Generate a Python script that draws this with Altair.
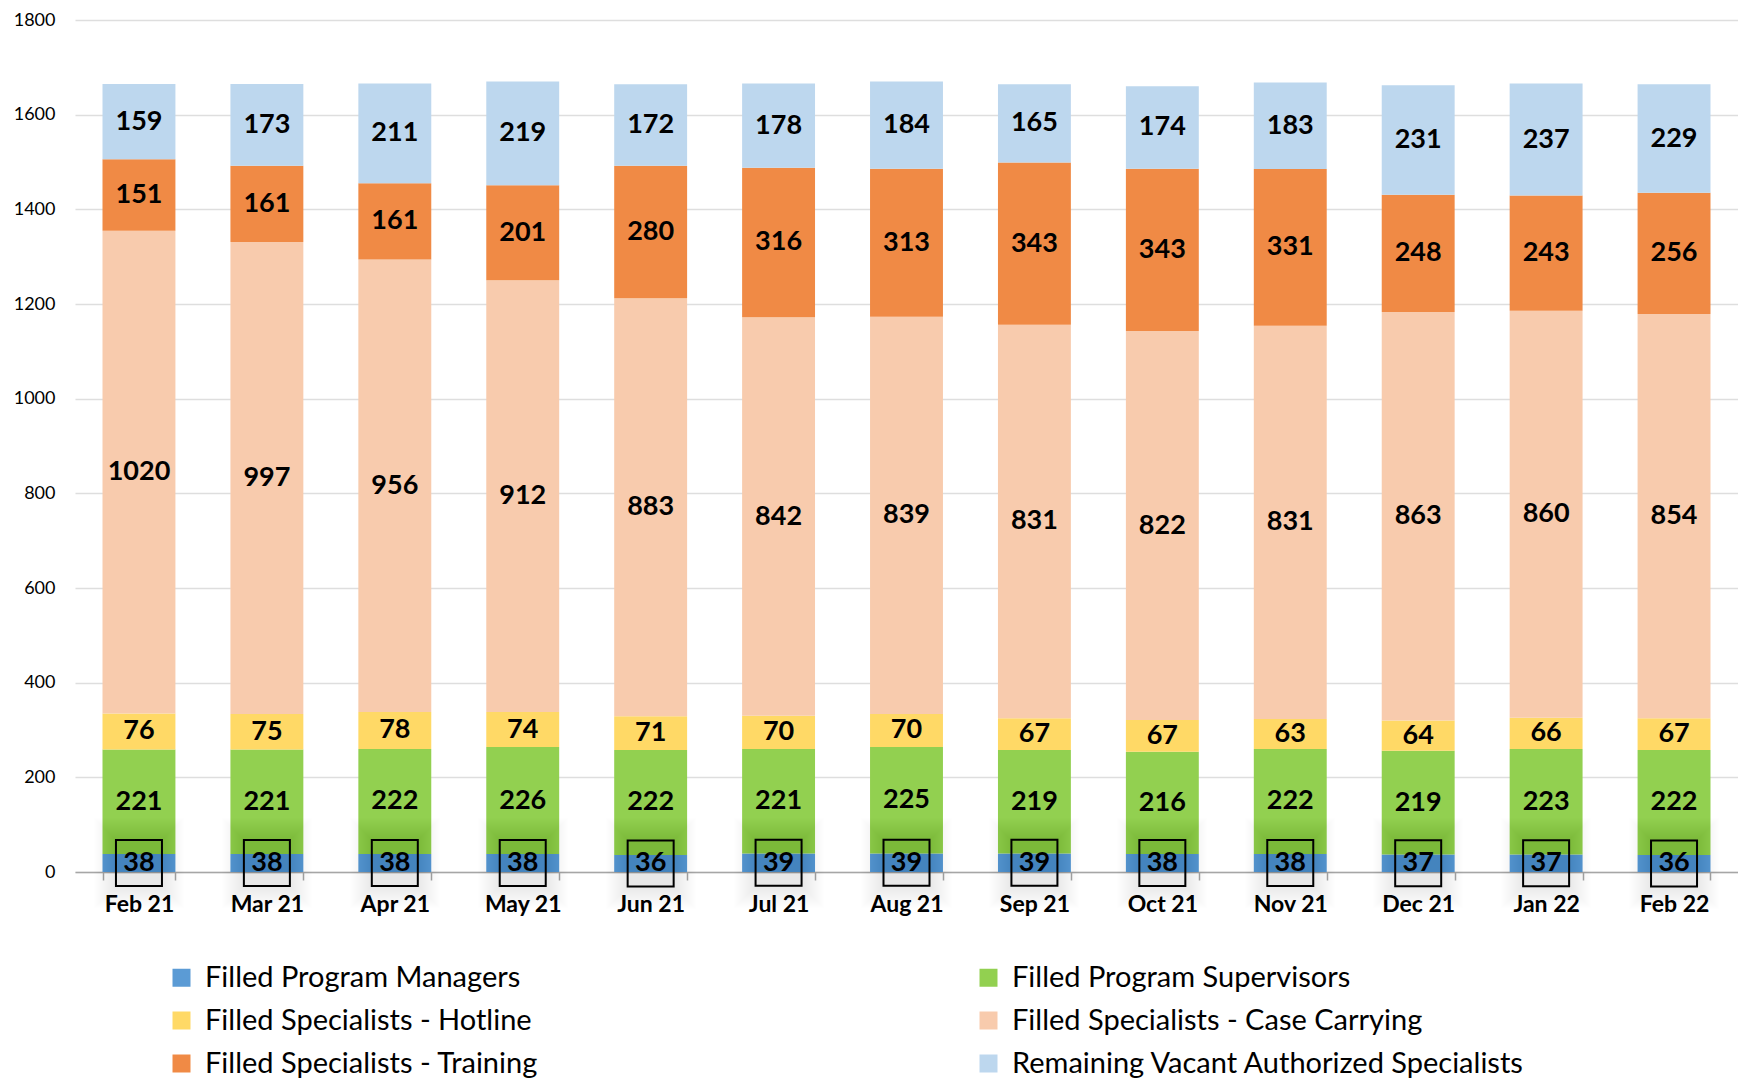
import altair as alt
import pandas as pd

months = ["Feb 21", "Mar 21", "Apr 21", "May 21", "Jun 21", "Jul 21", "Aug 21",
          "Sep 21", "Oct 21", "Nov 21", "Dec 21", "Jan 22", "Feb 22"]
series_names = ["Filled Program Managers", "Filled Program Supervisors",
                "Filled Specialists - Hotline", "Filled Specialists - Case Carrying",
                "Filled Specialists - Training", "Remaining Vacant Authorized Specialists"]
managers = [38, 38, 38, 38, 36, 39, 39, 39, 38, 38, 37, 37, 36]
supervisors = [221, 221, 222, 226, 222, 221, 225, 219, 216, 222, 219, 223, 222]
hotline = [76, 75, 78, 74, 71, 70, 70, 67, 67, 63, 64, 66, 67]
case_carrying = [1020, 997, 956, 912, 883, 842, 839, 831, 822, 831, 863, 860, 854]
training = [151, 161, 161, 201, 280, 316, 313, 343, 343, 331, 248, 243, 256]
vacant = [159, 173, 211, 219, 172, 178, 184, 165, 174, 183, 231, 237, 229]
colors = ["#5B9BD5", "#92D050", "#FFD966", "#F8CBAD", "#F08A45", "#BDD7EE"]

series_values = [managers, supervisors, hotline, case_carrying, training, vacant]
rows = []
for order, (name, vals) in enumerate(zip(series_names, series_values)):
    for m, v in zip(months, vals):
        rows.append({"month": m, "series": name, "value": v, "order": order})
df = pd.DataFrame(rows)

base = alt.Chart(df).transform_stack(
    stack="value", as_=["y0", "y1"], groupby=["month"],
    sort=[alt.SortField("order", order="ascending")]
).transform_calculate(mid="(datum.y0 + datum.y1) / 2")

x_enc = alt.X(
    "month:N", sort=months, title=None,
    scale=alt.Scale(paddingInner=0.43, paddingOuter=0.215),
    axis=alt.Axis(labelAngle=0, labelFont="Lato", labelFontWeight="bold",
                  labelFontSize=23, labelColor="#000000", labelPadding=13,
                  tickBand="extent", tickSize=8, tickColor="#A6A6A6", tickWidth=1.5,
                  domainColor="#A6A6A6", domainWidth=1.5, grid=False),
)
y_scale = alt.Scale(domain=[0, 1800], nice=False)

bars = base.mark_bar().encode(
    x=x_enc,
    y=alt.Y("y0:Q", scale=y_scale, title=None,
            axis=alt.Axis(values=list(range(0, 1801, 200)), format="d", labelFont="Lato",
                          labelFontSize=18, labelColor="#000000", labelPadding=20,
                          domain=False, ticks=False, gridColor="#DEDEDE",
                          gridWidth=1.5)),
    y2="y1:Q",
    color=alt.Color("series:N", scale=alt.Scale(domain=series_names, range=colors),
                    legend=alt.Legend(title=None, orient="none", legendX=92, legendY=943,
                                      direction="horizontal",
                                      columns=2, columnPadding=435, rowPadding=13,
                                      symbolType="square", symbolSize=324,
                                      symbolStrokeWidth=0, labelFont="Lato",
                                      labelFontSize=29, labelLimit=1000, labelOffset=9,
                                      labelColor="#000000")),
)

mgr = base.transform_filter(alt.datum.series == "Filled Program Managers")

shadow_layers = []
for side in range(47, 92, 2):
    shadow_layers.append(
        mgr.mark_square(color="#000000", opacity=0.0055, size=side * side, strokeWidth=0).encode(
            x=x_enc, y=alt.Y("mid:Q", scale=y_scale))
    )

box = mgr.mark_square(filled=False, color="#000000", stroke="#000000",
                      strokeWidth=2, size=46 * 46, opacity=1).encode(
    x=x_enc, y=alt.Y("mid:Q", scale=y_scale))

labels = base.mark_text(font="Lato", fontWeight="bold", fontSize=27,
                        color="#000000").encode(
    x=x_enc, y=alt.Y("mid:Q", scale=y_scale), text="value:Q")

chart = alt.layer(bars, *shadow_layers, box, labels).properties(
    width=1663, height=852,
    padding={"left": 5, "top": 3, "right": 0, "bottom": 0},
).configure_view(stroke=None)

chart.save("out.html", embed_options={"renderer": "svg", "actions": False})
